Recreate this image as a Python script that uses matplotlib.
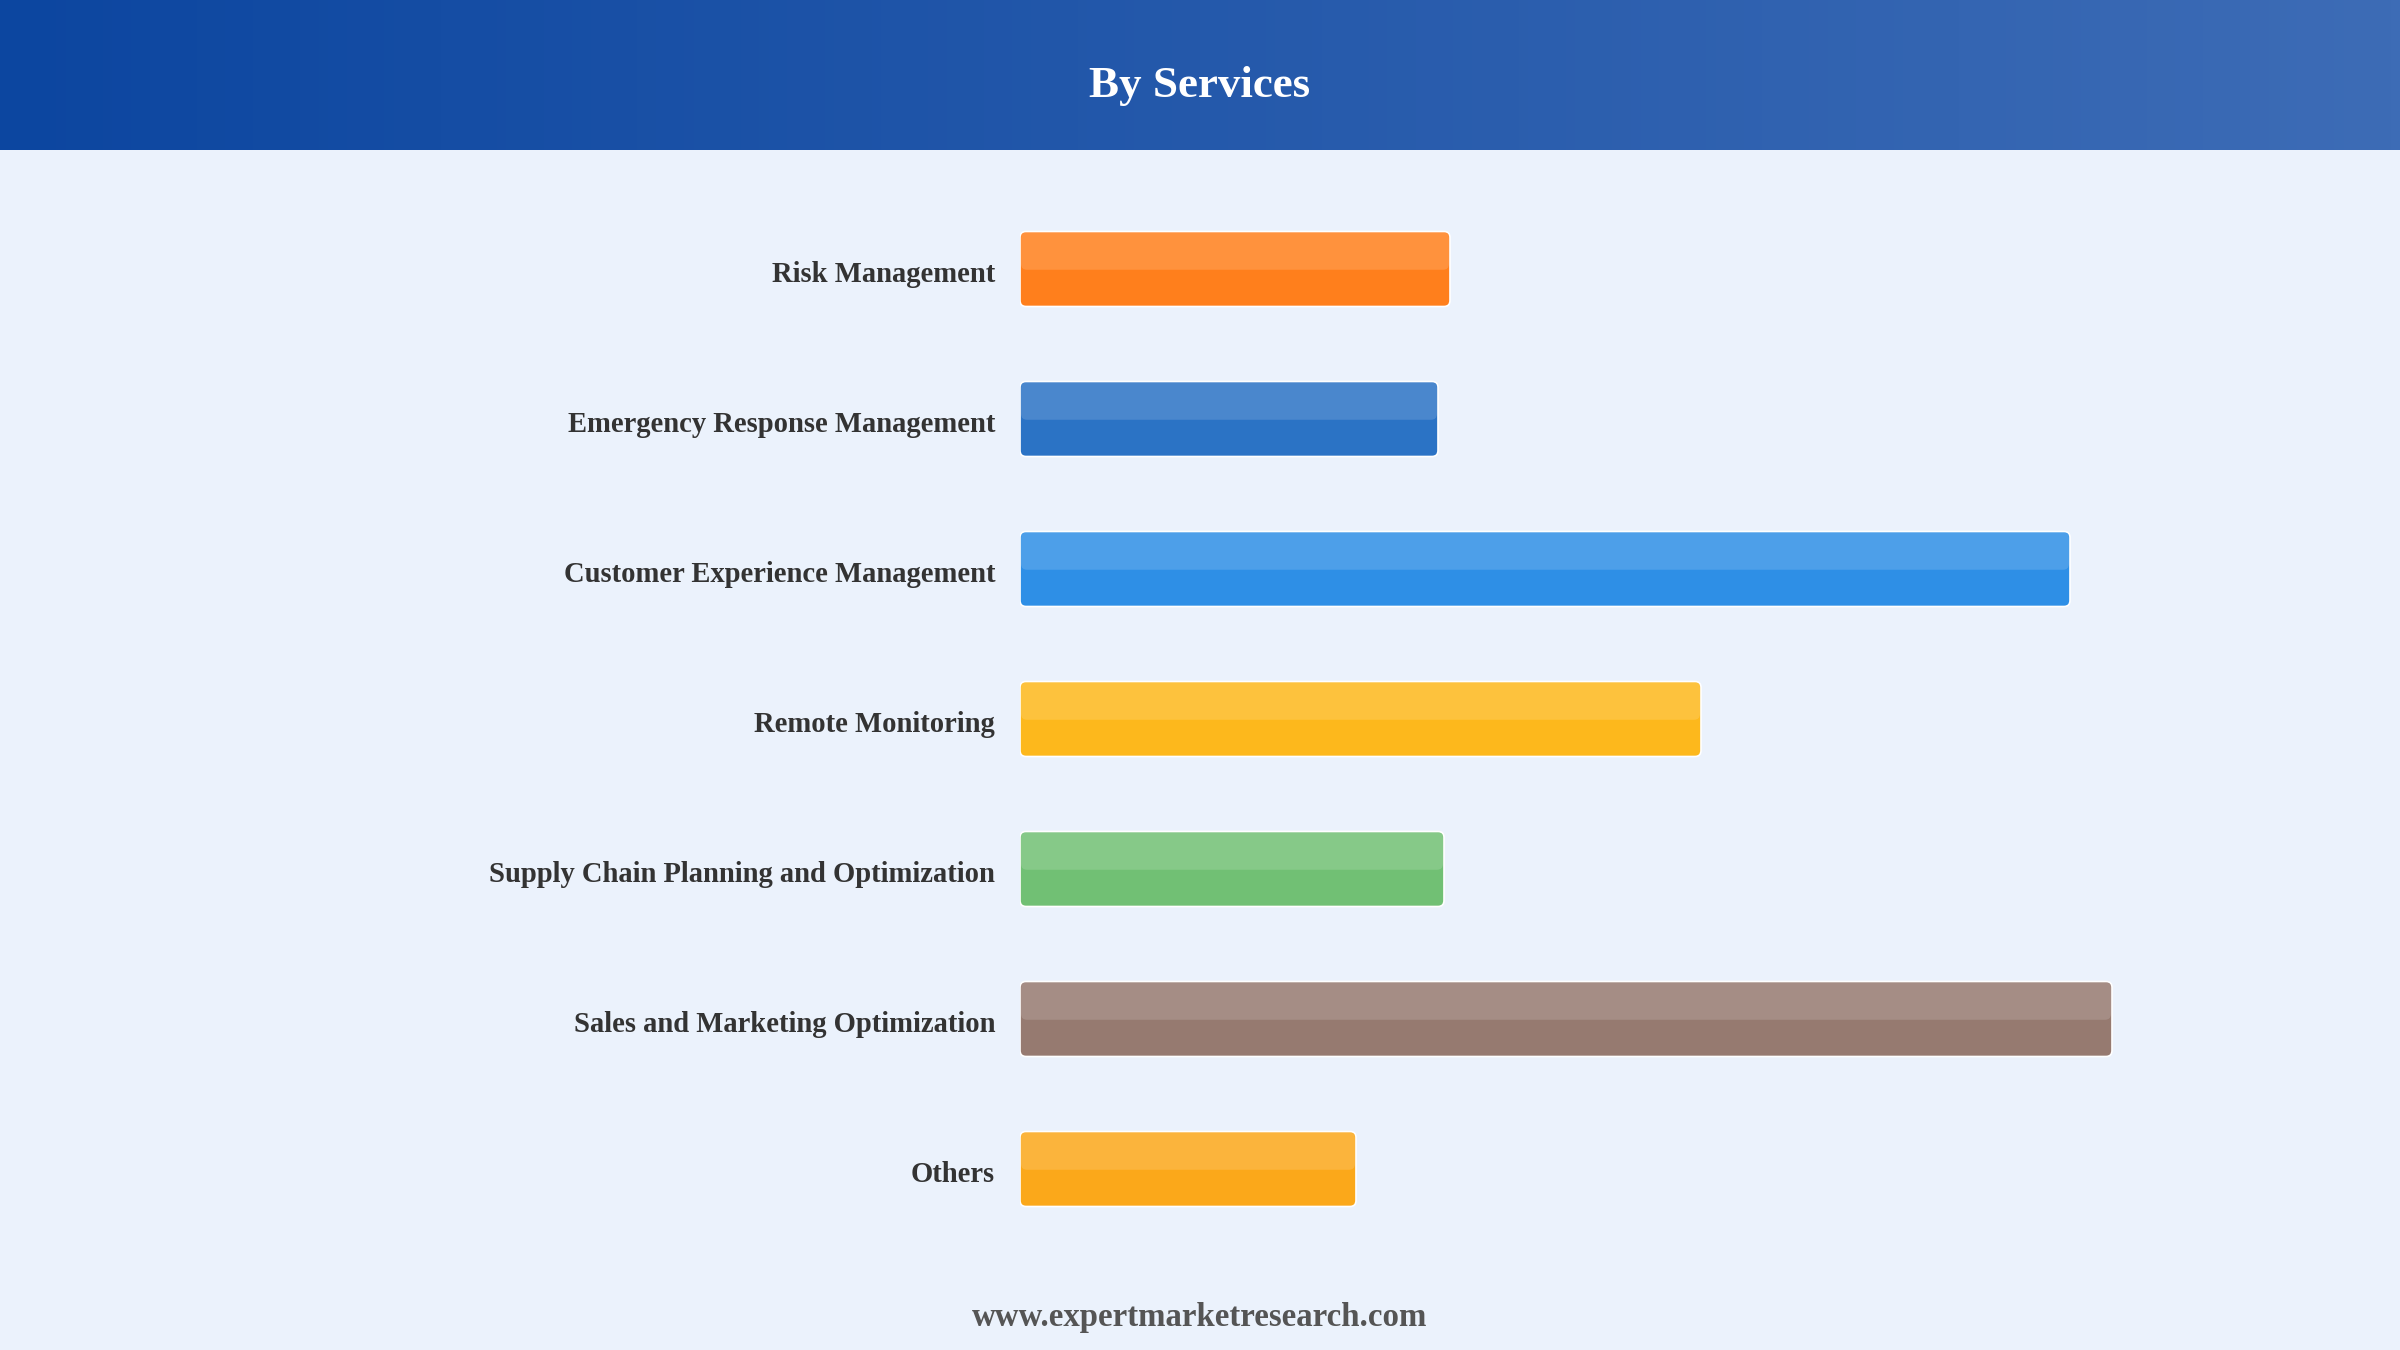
import numpy as np
import matplotlib
matplotlib.use("Agg")
import matplotlib.pyplot as plt
import matplotlib.transforms as mtransforms
from matplotlib.patches import FancyBboxPatch
from matplotlib.colors import LinearSegmentedColormap

# data (relative bar lengths)
categories = ['Risk Management', 'Emergency Response Management',
              'Customer Experience Management', 'Remote Monitoring',
              'Supply Chain Planning and Optimization',
              'Sales and Marketing Optimization', 'Others']
values = [4.30, 4.18, 10.50, 6.81, 4.24, 10.92, 3.36]
colors = ['#FF7F1C', '#2B73C5', '#2E8FE6', '#FDB81C', '#71C074', '#967A70', '#FBA81A']

title = 'By Services'
footer = 'www.expertmarketresearch.com'

bg = '#EBF2FC'
W, H = 2400, 1350
fig = plt.figure(figsize=(12, 6.75), dpi=200, facecolor=bg)

# header band with gradient
hax = fig.add_axes([0, 1 - 150 / H, 1, 150 / H])
cmap = LinearSegmentedColormap.from_list('hdr', ['#0C46A0', '#3D6CB6'])
hax.imshow(np.linspace(0, 1, 256).reshape(1, -1), aspect='auto', cmap=cmap,
           extent=[0, 1, 0, 1])
hax.set_axis_off()
fig.text(0.5, 1 - 97 / H, title, ha='center', va='baseline', color='white',
         fontsize=16.2, fontweight='bold', family='Liberation Serif')

# bar area: x 1020..2220 px (100 px per unit), y 194..1244 px (150 px per row)
ax = fig.add_axes([1020 / W, 1 - 1244 / H, 1200 / W, 1050 / H])
ax.set_facecolor(bg)
ax.set_xlim(0, 12)
ax.set_ylim(len(categories) - 0.5, -0.5)

bh = 0.5
ma = 100 / 150  # keeps the corners round on screen
for i, (v, c) in enumerate(zip(values, colors)):
    ax.add_patch(FancyBboxPatch((0, i - bh / 2), v, bh,
                                boxstyle='round,pad=0,rounding_size=0.06',
                                mutation_aspect=ma, facecolor=c,
                                edgecolor='white', linewidth=0.6, alpha=1))
    ax.add_patch(FancyBboxPatch((0.01, i - bh / 2 + 0.005), v - 0.02, bh / 2,
                                boxstyle='round,pad=0,rounding_size=0.06',
                                mutation_aspect=ma, facecolor='white',
                                edgecolor='none', alpha=0.15))

ax.set_yticks(range(len(categories)))
ax.set_yticklabels(categories, fontsize=10.3, fontweight='bold',
                   family='Liberation Serif', color='#333333')
ax.tick_params(axis='y', length=0, pad=9)
shift = mtransforms.ScaledTranslation(0, -3 / 200, fig.dpi_scale_trans)
for lab in ax.get_yticklabels():
    lab.set_transform(lab.get_transform() + shift)
ax.set_xticks([])
for s in ax.spines.values():
    s.set_visible(False)

fig.text(0.5, 1 - 1326 / H, footer, ha='center', va='baseline', color='#555555',
         fontsize=11.85, fontweight='bold', family='Liberation Serif')

fig.savefig('out.png', dpi=200, facecolor=bg)
